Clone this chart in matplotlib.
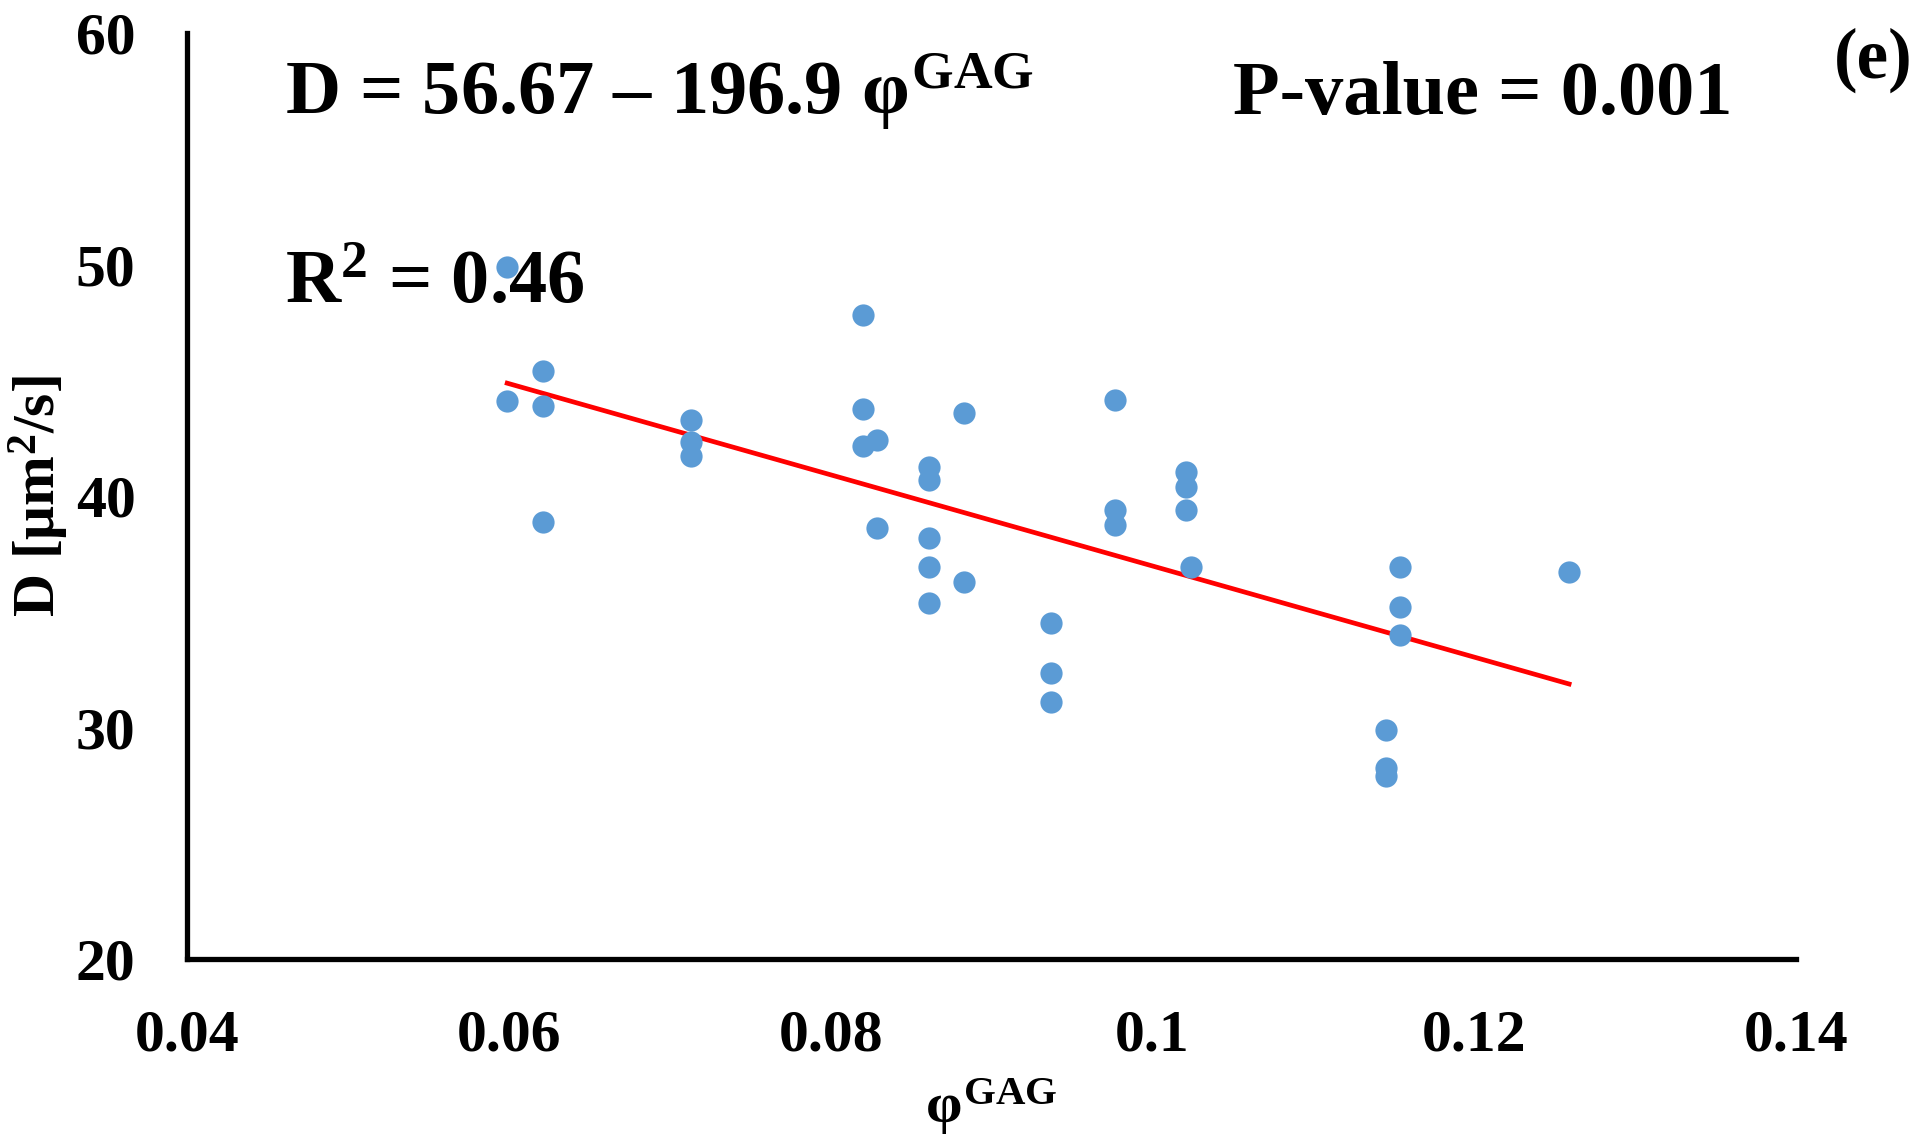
"""
D vs phi_GAG scatter with linear fit, panel (e)
"""
import numpy as np
import matplotlib
matplotlib.use("Agg")
import matplotlib.pyplot as plt

# data
phi_gag = [0.0599, 0.0599, 0.0621, 0.0621, 0.0621,
           0.0713, 0.0713, 0.0713,
           0.0820, 0.0820, 0.0820, 0.0829, 0.0829,
           0.0861, 0.0861, 0.0861, 0.0861, 0.0861,
           0.0883, 0.0883,
           0.0937, 0.0937, 0.0937,
           0.0977, 0.0977, 0.0977,
           0.1021, 0.1021, 0.1021, 0.1024,
           0.1145, 0.1145, 0.1145, 0.1154, 0.1154, 0.1154,
           0.1259]
diff_D = [49.9, 44.1, 45.4, 43.9, 38.9,
          43.3, 42.35, 41.75,
          47.8, 43.75, 42.15, 42.4, 38.6,
          41.25, 40.7, 38.2, 36.95, 35.4,
          43.6, 36.3,
          34.5, 32.35, 31.1,
          44.15, 39.4, 38.75,
          41.05, 40.4, 39.4, 36.95,
          29.9, 28.25, 27.9, 36.95, 35.2, 34.0,
          36.7]

# regression line D = a - b * phi
intercept = 56.67
slope = -196.9
r2_text = "0.46"
p_text = "0.001"

x_ticks = [0.04, 0.06, 0.08, 0.1, 0.12, 0.14]
x_ticklabels = ["0.04", "0.06", "0.08", "0.1", "0.12", "0.14"]
y_ticks = [20, 30, 40, 50, 60]

plt.rcParams['font.family'] = ['Liberation Serif', 'DejaVu Serif']
plt.rcParams['font.weight'] = 'bold'
plt.rcParams['mathtext.fontset'] = 'custom'
plt.rcParams['mathtext.rm'] = 'Liberation Serif:bold'
plt.rcParams['mathtext.it'] = 'Liberation Serif:bold'
plt.rcParams['mathtext.bf'] = 'Liberation Serif:bold'

fig = plt.figure(figsize=(19.2, 11.44), dpi=100)
ax = fig.add_axes([0.0974, 0.1617, 0.8380, 0.8094])

# fit line over the data range
x_fit = np.array([min(phi_gag), max(phi_gag)])
y_fit = intercept + slope * x_fit
ax.plot(x_fit, y_fit, color='#FF0000', lw=3.4, zorder=2)
ax.plot(phi_gag, diff_D, 'o', ms=16, color='#5B9BD5', mec='none', zorder=3)

ax.set_xlim(0.04, 0.14)
ax.set_ylim(20, 60)
ax.set_xticks(x_ticks)
ax.set_xticklabels(x_ticklabels)
ax.set_yticks(y_ticks)

for side in ['top', 'right']:
    ax.spines[side].set_visible(False)
for side in ['left', 'bottom']:
    ax.spines[side].set_linewidth(3.8)
    ax.spines[side].set_color('black')
    ax.spines[side].set_capstyle('projecting')

ax.tick_params(axis='x', length=0, labelsize=43, pad=36)
ax.tick_params(axis='y', length=0, labelsize=43, pad=37)

ax.set_xlabel(r'$φ^{GAG}$', fontsize=42)
ax.xaxis.set_label_coords(0.5, -0.127)
ax.set_ylabel(r'D [μm$^{2}$/s]', fontsize=43, fontweight='bold')
ax.yaxis.set_label_coords(-0.072, 0.5)

# annotations
ax.text(0.061, 0.9125, f'D = {intercept} \u2013 {-slope} ' + r'$φ^{GAG}$',
        transform=ax.transAxes, fontsize=55, fontweight='bold', va='baseline')
ax.text(0.650, 0.9125, f'P-value = {p_text}',
        transform=ax.transAxes, fontsize=55, fontweight='bold', va='baseline')
ax.text(0.061, 0.7084, r'R$^{2}$ = ' + r2_text,
        transform=ax.transAxes, fontsize=55, fontweight='bold', va='baseline')
fig.text(0.996, 0.947, '(e)', fontsize=51, fontweight='bold',
         ha='right', va='center')

fig.savefig('out.png', dpi=100, facecolor='white')
